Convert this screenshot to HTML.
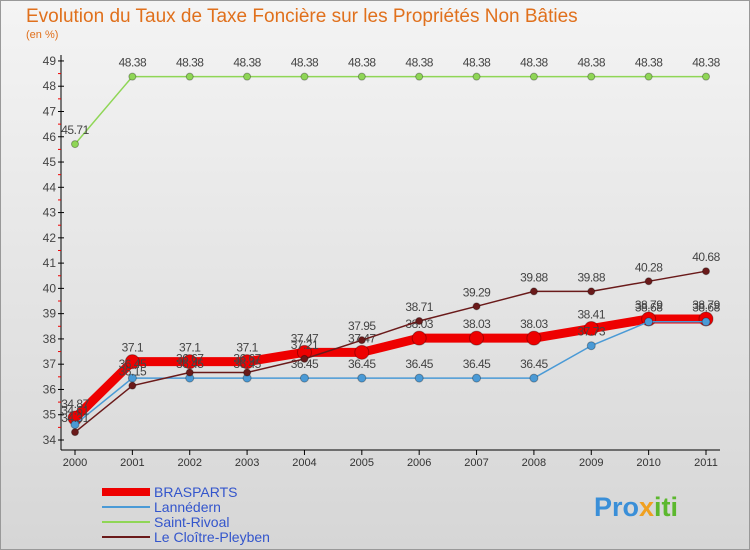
<!DOCTYPE html>
<html><head><meta charset="utf-8"><style>
body{margin:0;width:750px;height:550px;overflow:hidden;font-family:"Liberation Sans","DejaVu Sans",sans-serif}
svg{display:block}
</style></head><body>
<svg id="c" width="750" height="550">
<defs><linearGradient id="bg" x1="0" y1="0" x2="0" y2="1"><stop offset="0" stop-color="#f4f4f4"/><stop offset="1" stop-color="#d6d6d6"/></linearGradient></defs>
<rect width="750" height="550" fill="url(#bg)"/>
<rect x="0.5" y="0.5" width="749" height="549" fill="none" stroke="#999"/>
<text x="26" y="22" font-size="19" fill="#e0701c">Evolution du Taux de Taxe Foncière sur les Propriétés Non Bâties</text>
<text x="26" y="38" font-size="11" fill="#e0701c">(en %)</text>
<g id="g"></g>
<text x="594" y="516" font-size="27" font-weight="bold" fill="#3a8fd8">Pro<tspan fill="#f0a020">x</tspan><tspan fill="#5cb82e">iti</tspan></text>
</svg>
<script>
const years=["2000","2001","2002","2003","2004","2005","2006","2007","2008","2009","2010","2011"];
const brasparts=[34.87,37.1,37.1,37.1,37.47,37.47,38.03,38.03,38.03,38.41,38.79,38.79];
const lannedern=[34.61,36.45,36.45,36.45,36.45,36.45,36.45,36.45,36.45,37.73,38.68,38.68];
const saintRivoal=[45.71,48.38,48.38,48.38,48.38,48.38,48.38,48.38,48.38,48.38,48.38,48.38];
const cloitre=[34.31,36.15,36.67,36.67,37.21,37.95,38.71,39.29,39.88,39.88,40.28,40.68];
const yTicks=[34,35,36,37,38,39,40,41,42,43,44,45,46,47,48,49];
const seriesNames=["BRASPARTS","Lannédern","Saint-Rivoal","Le Cloître-Pleyben"];
const ns="http://www.w3.org/2000/svg",g=document.getElementById('g');
const X=i=>75+i*(631/11), Y=v=>440-(v-34)*25.27;
function el(t,a,p){const e=document.createElementNS(ns,t);for(const k in a)e.setAttribute(k,a[k]);(p||g).appendChild(e);return e;}
let ax=el('line',{x1:61,y1:55,x2:61,y2:450,stroke:'#000'});
let xa=el('line',{x1:61,y1:450,x2:720,y2:450,stroke:'#000'});
yTicks.forEach(v=>{const y=Y(v);
 el('line',{x1:58,y1:y,x2:64,y2:y,stroke:'#000'});
 if(v<49)el('line',{x1:58,y1:Y(v+0.5),x2:61,y2:Y(v+0.5),stroke:'#e00'});
 const t=el('text',{x:56,y:y+4,'font-size':12,fill:'#444','text-anchor':'end'});t.textContent=v;
 });
years.forEach((yr,i)=>{const x=X(i);el('line',{x1:x,y1:450,x2:x,y2:455,stroke:'#000'});
 const t=el('text',{x:x,y:466,'font-size':11,fill:'#333','text-anchor':'middle'});t.textContent=yr;
 });
function series(data,color,w,r,name){
 const p=el('polyline',{points:data.map((v,i)=>X(i)+','+Y(v)).join(' '),fill:'none',stroke:color,'stroke-width':w,'stroke-linejoin':'round'});
 
 data.forEach((v,i)=>{const c=el('circle',{cx:X(i),cy:Y(v),r:r,fill:color,stroke:'rgba(0,0,0,0.3)'});
  
  const t=el('text',{x:X(i),y:Y(v)-10,'font-size':12,fill:'#444','text-anchor':'middle','letter-spacing':'-0.5'});t.textContent=v;
  });
}
series(saintRivoal,'#8fd656',1.5,3.5,'saint-rivoal');
series(brasparts,'#ee0000',9,7,'brasparts');
series(lannedern,'#4a9ad6',1.5,4,'lannedern');
series(cloitre,'#6a1a1a',1.5,3.5,'le-cloitre-pleyben');
const lc=['#ee0000','#4a9ad6','#8fd656','#6a1a1a'],lw=[8,2,2,2];
seriesNames.forEach((n,i)=>{const y=492+i*15;
 const l=el('line',{x1:102,y1:y,x2:150,y2:y,stroke:lc[i],'stroke-width':lw[i]});
 
 const t=el('text',{x:154,y:y+5,'font-size':14,fill:'#3355cc'});t.textContent=n;
 });
</script>
</body></html>
